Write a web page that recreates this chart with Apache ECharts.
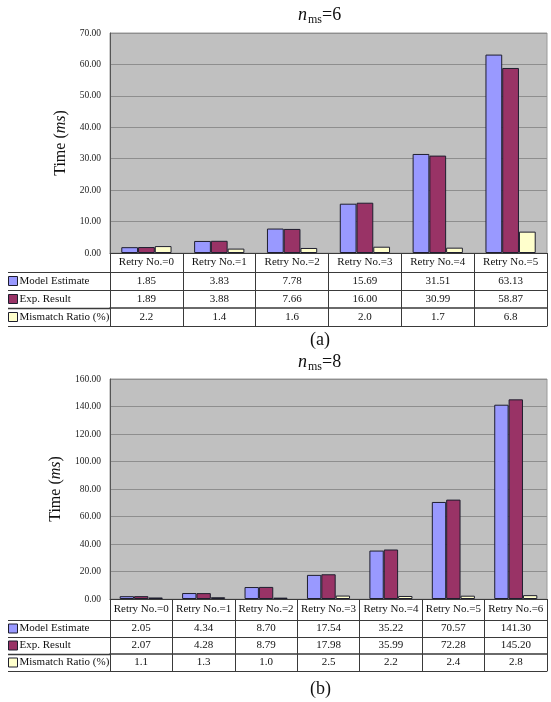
<!DOCTYPE html>
<html>
<head>
<meta charset="utf-8">
<script src="https://cdn.jsdelivr.net/npm/echarts@6/dist/echarts.min.js"></script>
<style>
  html, body { margin: 0; padding: 0; background: #ffffff; }
  #chart { width: 551px; height: 702px; }
</style>
</head>
<body>
<div id="chart"></div>
<script>
// ---- data: n_ms = 6 ----
const categoriesA = ['Retry No.=0', 'Retry No.=1', 'Retry No.=2', 'Retry No.=3', 'Retry No.=4', 'Retry No.=5'];
const modelEstimateA = [1.85, 3.83, 7.78, 15.69, 31.51, 63.13];
const expResultA = [1.89, 3.88, 7.66, 16.00, 30.99, 58.87];
const mismatchRatioA = [2.2, 1.4, 1.6, 2.0, 1.7, 6.8];
const yTicksA = [0, 10, 20, 30, 40, 50, 60, 70];

// ---- data: n_ms = 8 ----
const categoriesB = ['Retry No.=0', 'Retry No.=1', 'Retry No.=2', 'Retry No.=3', 'Retry No.=4', 'Retry No.=5', 'Retry No.=6'];
const modelEstimateB = [2.05, 4.34, 8.70, 17.54, 35.22, 70.57, 141.30];
const expResultB = [2.07, 4.28, 8.79, 17.98, 35.99, 72.28, 145.20];
const mismatchRatioB = [1.1, 1.3, 1.0, 2.5, 2.2, 2.4, 2.8];
const yTicksB = [0, 20, 40, 60, 80, 100, 120, 140, 160];

const seriesNames = ['Model Estimate', 'Exp. Result', 'Mismatch Ratio (%)'];
const seriesDecimals = [2, 2, 1];
const panelValues = ['6', '8'];
const captions = ['(a)', '(b)'];

// ---- styling / layout ----
const SERIF = '"Liberation Serif", "Times New Roman", serif';
const INK = '#111111';
const RULE = '#3a3a3a';
const FILLS = ['#9999ff', '#993366', '#ffffcc'];
const LEFT = 110;
const WIDTH = 437;

const panels = [
  { cats: categoriesA, rows: [modelEstimateA, expResultA, mismatchRatioA], ticks: yTicksA,
    top: 33, height: 220, headerH: 19, rowH: 18, titleTop: 4, captionTop: 331, nameGap: 41 },
  { cats: categoriesB, rows: [modelEstimateB, expResultB, mismatchRatioB], ticks: yTicksB,
    top: 379, height: 220, headerH: 21, rowH: 17, titleTop: 351, captionTop: 680, nameGap: 41 }
];

const grids = [];
const xAxes = [];
const yAxes = [];
const series = [];
const legends = [];
const titles = [];
const graphics = [];

const labelFont = { fontFamily: SERIF, fontSize: 11, color: INK };

panels.forEach((p, pi) => {
  const base = xAxes.length;
  const plotBottom = p.top + p.height;

  grids.push({
    left: LEFT, top: p.top, width: WIDTH, height: p.height,
    show: true, backgroundColor: '#c0c0c0', borderColor: '#9a9a9a', borderWidth: 1,
    containLabel: false, outerBoundsMode: 'none'
  });

  // header row of the data table: category names, also the axis the bars sit on
  xAxes.push({
    gridIndex: pi, type: 'category', data: p.cats, position: 'bottom', offset: 0,
    axisLine: { show: true, lineStyle: { color: RULE, width: 1 } },
    axisTick: { show: true, interval: 0, length: p.headerH, lineStyle: { color: RULE } },
    axisLabel: Object.assign({ interval: 0, margin: p.headerH / 2, verticalAlign: 'middle' }, labelFont),
    splitLine: { show: false }
  });

  // one table row per series, formatted from the series values
  p.rows.forEach((vals, ri) => {
    xAxes.push({
      gridIndex: pi, type: 'category', data: p.cats, position: 'bottom',
      offset: p.headerH + ri * p.rowH,
      axisLine: { show: true, lineStyle: { color: RULE, width: ri === 2 ? 1.5 : 1 } },
      axisTick: { show: true, interval: 0, length: p.rowH, lineStyle: { color: RULE } },
      axisLabel: Object.assign({
        interval: 0, margin: p.rowH / 2, verticalAlign: 'middle',
        formatter: (v, idx) => vals[idx].toFixed(seriesDecimals[ri])
      }, labelFont),
      splitLine: { show: false }
    });
  });

  // bottom rule of the table
  xAxes.push({
    gridIndex: pi, type: 'category', data: p.cats, position: 'bottom',
    offset: p.headerH + 3 * p.rowH,
    axisLine: { show: true, lineStyle: { color: RULE } },
    axisTick: { show: false }, axisLabel: { show: false }, splitLine: { show: false }
  });

  const tk = p.ticks;
  yAxes.push({
    gridIndex: pi, type: 'value',
    min: tk[0], max: tk[tk.length - 1], interval: tk[1] - tk[0],
    axisLine: { show: true, lineStyle: { color: '#555555' } },
    axisTick: { show: false },
    axisLabel: { fontFamily: SERIF, fontSize: 9.5, color: '#222222', margin: 9,
                 formatter: v => v.toFixed(2) },
    splitLine: { show: true, lineStyle: { color: '#8e8e8e', width: 1 } },
    name: '{a|Time (}{b|ms}{a|)}',
    nameLocation: 'middle', nameRotate: 90, nameGap: p.nameGap,
    nameTextStyle: {
      rich: {
        a: { fontFamily: SERIF, fontSize: 16, color: INK },
        b: { fontFamily: SERIF, fontSize: 16, color: INK, fontStyle: 'italic' }
      }
    }
  });

  p.rows.forEach((vals, ri) => {
    series.push({
      name: seriesNames[ri], type: 'bar',
      xAxisIndex: base, yAxisIndex: pi,
      data: vals,
      barGap: '0%', barCategoryGap: '31%',
      itemStyle: { color: FILLS[ri], borderColor: '#1e1e2e', borderWidth: 1 },
      emphasis: { disabled: true },
      z: 3
    });
  });

  // row headers of the table
  legends.push({
    orient: 'vertical', left: 8, top: plotBottom + p.headerH,
    padding: 0, itemGap: 0, itemWidth: 9, itemHeight: 9, icon: 'rect',
    selectedMode: false,
    data: seriesNames.map((n, k) => ({
      name: n, itemStyle: { color: FILLS[k], borderColor: '#1e1e2e', borderWidth: 1 }
    })),
    textStyle: { fontFamily: SERIF, fontSize: 11, color: INK,
                 lineHeight: p.rowH, height: p.rowH, padding: [0, 0, 0, -3] }
  });

  // horizontal rules under the row-header column
  for (let r = 0; r <= 3; r++) {
    const y = plotBottom + p.headerH + r * p.rowH;
    graphics.push({
      type: 'line', silent: true,
      shape: { x1: 8, y1: y + 0.5, x2: LEFT, y2: y + 0.5 },
      style: { stroke: RULE, lineWidth: r === 2 ? 1.5 : 1 }
    });
  }

  titles.push({
    text: '{i|n}{s|ms}{r|=' + panelValues[pi] + '}',
    left: 298, top: p.titleTop, padding: 0,
    textStyle: {
      fontWeight: 'normal',
      rich: {
        i: { fontFamily: SERIF, fontSize: 18, fontStyle: 'italic', fontWeight: 'normal', color: INK, lineHeight: 22 },
        s: { fontFamily: SERIF, fontSize: 12, fontWeight: 'normal', color: INK, lineHeight: 12, padding: [10, 0, 0, 1] },
        r: { fontFamily: SERIF, fontSize: 18, fontWeight: 'normal', color: INK, lineHeight: 22 }
      }
    }
  });
  titles.push({
    text: captions[pi], left: 310, top: p.captionTop, padding: 0,
    textStyle: { fontFamily: SERIF, fontSize: 18, fontWeight: 'normal', color: INK }
  });
});

const chart = echarts.init(document.getElementById('chart'), null, { renderer: 'canvas' });
chart.setOption({
  animation: false,
  backgroundColor: '#ffffff',
  title: titles,
  legend: legends,
  grid: grids,
  xAxis: xAxes,
  yAxis: yAxes,
  series: series,
  graphic: graphics
});
</script>
</body>
</html>
